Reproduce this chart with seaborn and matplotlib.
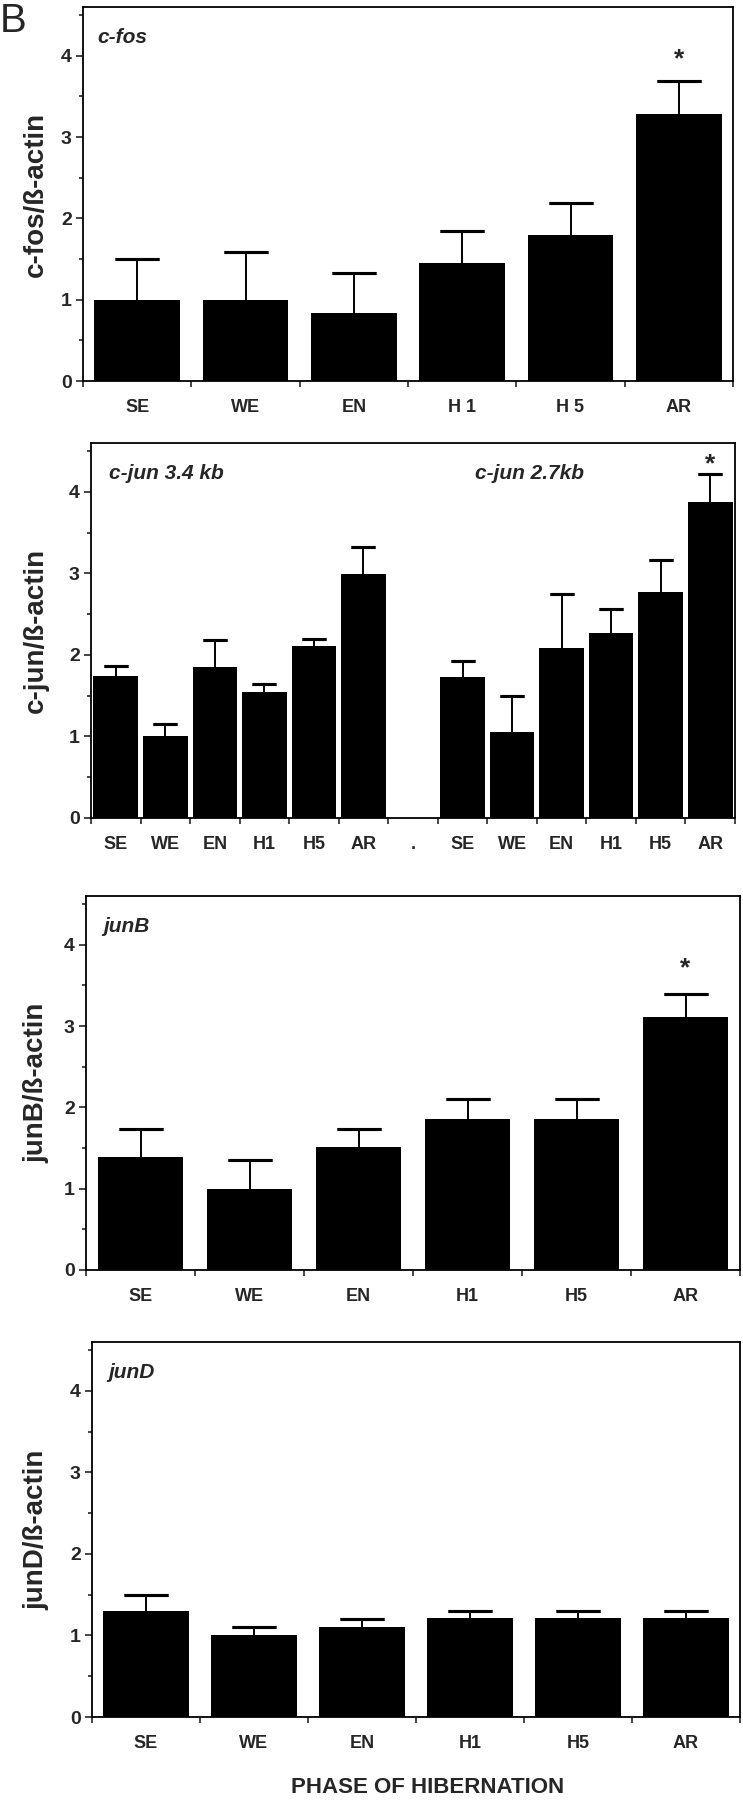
import numpy as np
import pandas as pd
import matplotlib
matplotlib.use("Agg")
import matplotlib.pyplot as plt
import matplotlib.transforms as mtransforms
from matplotlib.ticker import FixedLocator, MultipleLocator
import seaborn as sns

PHASES = ["SE", "WE", "EN", "H1", "H5", "AR"]

cfos_mean = [1.00, 1.00, 0.84, 1.45, 1.79, 3.29]
cfos_err = [0.50, 0.59, 0.49, 0.39, 0.40, 0.40]

cjun34_mean = [1.74, 1.00, 1.85, 1.54, 2.11, 2.99]
cjun34_err = [0.12, 0.15, 0.33, 0.10, 0.09, 0.34]
cjun27_mean = [1.73, 1.06, 2.08, 2.27, 2.77, 3.88]
cjun27_err = [0.20, 0.44, 0.67, 0.29, 0.40, 0.34]

junb_mean = [1.39, 1.00, 1.51, 1.86, 1.86, 3.11]
junb_err = [0.35, 0.35, 0.23, 0.24, 0.24, 0.29]

jund_mean = [1.30, 1.00, 1.11, 1.21, 1.22, 1.22]
jund_err = [0.20, 0.11, 0.09, 0.09, 0.08, 0.08]

FIG_W, FIG_H = 743, 1800

sns.set_style("white")
plt.rcParams["font.family"] = ["Liberation Sans", "DejaVu Sans"]
plt.rcParams["font.weight"] = "bold"


def px_axes(fig, left, right, top, bottom):
    return fig.add_axes([left / FIG_W, 1 - bottom / FIG_H,
                         (right - left) / FIG_W, (bottom - top) / FIG_H])


def draw_panel(fig, ax, df, tick_labels, width, capsize, ylabel, titles, star_off=None):
    n = len(df)
    sns.barplot(data=df, x="slot", y="ratio", order=list(df["slot"]), color="black",
                saturation=1, width=width, errorbar=None, linewidth=0, ax=ax)
    pts = df[df["err"].notna()]
    xpos = [list(df["slot"]).index(s) for s in pts["slot"]]
    # upper error only
    ax.errorbar(xpos, pts["ratio"] + pts["err"] / 2, yerr=pts["err"] / 2, fmt="none",
                ecolor="black", elinewidth=1.4, capsize=0, zorder=3)
    ax.errorbar(xpos, pts["ratio"] + pts["err"], yerr=0, fmt="none",
                ecolor="black", elinewidth=0, capsize=capsize, capthick=2.2, zorder=3)

    ax.set_xlim(-0.5, n - 0.5)
    ax.set_ylim(0, 4.6)
    ax.set_xticks(range(n))
    ax.set_xticklabels(tick_labels, fontsize=13, fontweight="bold")
    ax.xaxis.set_minor_locator(FixedLocator(np.arange(-0.5, n, 1.0)))
    ax.tick_params(axis="x", which="major", length=0, pad=13)
    ax.tick_params(axis="x", which="minor", length=4, width=1.2, direction="out", bottom=True)
    ax.set_yticks([0, 1, 2, 3, 4])
    ax.yaxis.set_minor_locator(MultipleLocator(0.5))
    ax.tick_params(axis="y", which="major", length=5, width=1.2, direction="out",
                   left=True, labelsize=14, pad=3)
    ax.tick_params(axis="y", which="minor", length=3, width=1.2, direction="out", left=True)
    for lab in ax.get_yticklabels():
        lab.set_fontweight("bold")
    for sp in ax.spines.values():
        sp.set_visible(True)
        sp.set_color("black")
        sp.set_linewidth(1.3)

    ax.set_xlabel("")
    ax.set_ylabel(ylabel, fontsize=20, fontweight="bold")
    ax.yaxis.set_label_coords(49 / FIG_W, 0.5,
                              transform=mtransforms.blended_transform_factory(fig.transFigure, ax.transAxes))

    for tx, text in titles:
        ax.text(tx, 4.23, text, transform=mtransforms.blended_transform_factory(ax.transAxes, ax.transData),
                fontsize=15, fontstyle="italic", fontweight="bold", ha="left", va="center")

    if star_off is not None:
        last = pts.iloc[-1]
        ax.text(xpos[-1], last["ratio"] + last["err"] + star_off, "*", fontsize=19,
                fontweight="bold", ha="center", va="center")


fig = plt.figure(figsize=(FIG_W / 100, FIG_H / 100), dpi=100)

# c-fos
ax1 = px_axes(fig, 83, 733, 7, 381)
df1 = pd.DataFrame({"slot": PHASES, "ratio": cfos_mean, "err": cfos_err})
draw_panel(fig, ax1, df1, ["SE", "WE", "EN", "H 1", "H 5", "AR"], 0.79, 15.5,
           "c-fos/ß-actin", [(0.022, "c-fos")], star_off=0.27)

# c-jun, two transcripts side by side
ax2 = px_axes(fig, 91, 735, 443, 818)
slots2 = [p + " 3.4" for p in PHASES] + ["gap"] + [p + " 2.7" for p in PHASES]
df2 = pd.DataFrame({
    "slot": slots2,
    "ratio": cjun34_mean + [0.0] + cjun27_mean,
    "err": cjun34_err + [np.nan] + cjun27_err,
})
draw_panel(fig, ax2, df2, PHASES + ["."] + PHASES, 0.9, 8.5,
           "c-jun/ß-actin", [(0.028, "c-jun 3.4 kb"), (0.596, "c-jun 2.7kb")], star_off=0.12)

# junB
ax3 = px_axes(fig, 86, 740, 896, 1270)
df3 = pd.DataFrame({"slot": PHASES, "ratio": junb_mean, "err": junb_err})
draw_panel(fig, ax3, df3, PHASES, 0.78, 15.5, "junB/ß-actin", [(0.026, "junB")], star_off=0.31)

# junD
ax4 = px_axes(fig, 92, 740, 1342, 1717)
df4 = pd.DataFrame({"slot": PHASES, "ratio": jund_mean, "err": jund_err})
draw_panel(fig, ax4, df4, PHASES, 0.79, 15.5, "junD/ß-actin", [(0.025, "junD")])

ax4.set_xlabel("PHASE OF HIBERNATION", fontsize=16, fontweight="bold")
ax4.xaxis.set_label_coords(0.5 + 12 / 648, 1 - 1777 / FIG_H,
                           transform=mtransforms.blended_transform_factory(ax4.transAxes, fig.transFigure))

fig.text(0.0, 0.999, "B", fontsize=29, fontweight="normal", ha="left", va="top")

fig.savefig("out.png", dpi=100)
